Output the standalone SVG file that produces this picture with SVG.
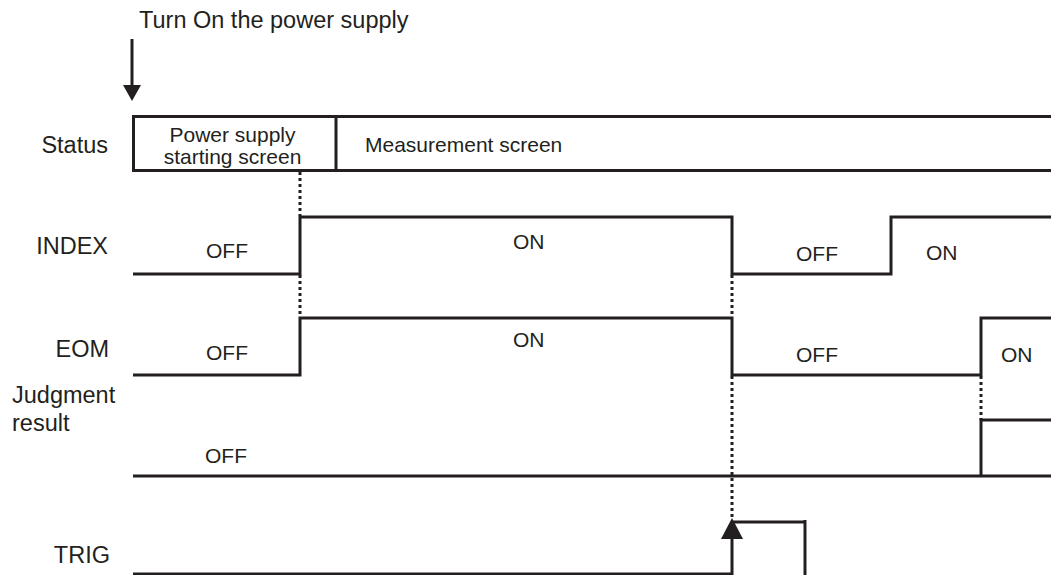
<svg xmlns="http://www.w3.org/2000/svg" width="1051" height="575" viewBox="0 0 1051 575">
<style>
text{font-family:"Liberation Sans",Arial,sans-serif;fill:#231f20}
.lbl{font-size:23.5px;text-anchor:end}
.st{font-size:21px}
.sig{fill:none;stroke:#231f20;stroke-width:3}
.dot{fill:none;stroke:#231f20;stroke-width:3;stroke-dasharray:3 3}
</style>
<rect width="1051" height="575" fill="#fff"/>
<g id="power-on">
<text x="139" y="28" style="font-size:23.5px">Turn On the power supply</text>
<line x1="132" y1="39" x2="132" y2="87" stroke="#231f20" stroke-width="3"/>
<polygon points="123,85 141,85 132,101" fill="#231f20"/>
</g>
<g id="labels">
<text class="lbl" x="108" y="153">Status</text>
<text class="lbl" x="108" y="254">INDEX</text>
<text class="lbl" x="109" y="357">EOM</text>
<text x="12" y="403" style="font-size:23.5px">Judgment</text>
<text x="12" y="431" style="font-size:23.5px">result</text>
<text class="lbl" x="110" y="563">TRIG</text>
</g>
<g id="status">
<path class="sig" d="M1052 116.5 H133.5 V170.5 H1052 M336 116.5 V170.5"/>
<text class="st" x="232.5" y="142" text-anchor="middle">Power supply</text>
<text class="st" x="232.5" y="164" text-anchor="middle">starting screen</text>
<text class="st" x="365" y="152">Measurement screen</text>
</g>
<g id="index">
<path class="sig" d="M133 274 H300 V217 H732 V274 H891 V217 H1052"/>
<text class="st" x="206" y="258">OFF</text>
<text class="st" x="513" y="249">ON</text>
<text class="st" x="796" y="261">OFF</text>
<text class="st" x="926" y="260">ON</text>
</g>
<g id="eom">
<path class="sig" d="M133 375 H300 V318 H732 V375 H981 V318 H1052"/>
<text class="st" x="206" y="360">OFF</text>
<text class="st" x="513" y="347">ON</text>
<text class="st" x="796" y="362">OFF</text>
<text class="st" x="1001" y="362">ON</text>
</g>
<g id="judgment">
<path class="sig" d="M133 476 H1052 M981 476 V420 H1052"/>
<text class="st" x="205" y="463">OFF</text>
</g>
<g id="trig">
<path class="sig" d="M133 574 H732 V524"/>
<path class="sig" d="M732 522 H805" stroke-width="4.5"/>
<path class="sig" d="M805 520 V576"/>
<polygon points="721,539 743,539 732,518" fill="#231f20"/>
</g>
<g id="connectors">
<path class="dot" d="M300 172 V216 M300 275 V317 M732 275 V317 M732 376 V518 M981 376 V420"/>
</g>
</svg>
